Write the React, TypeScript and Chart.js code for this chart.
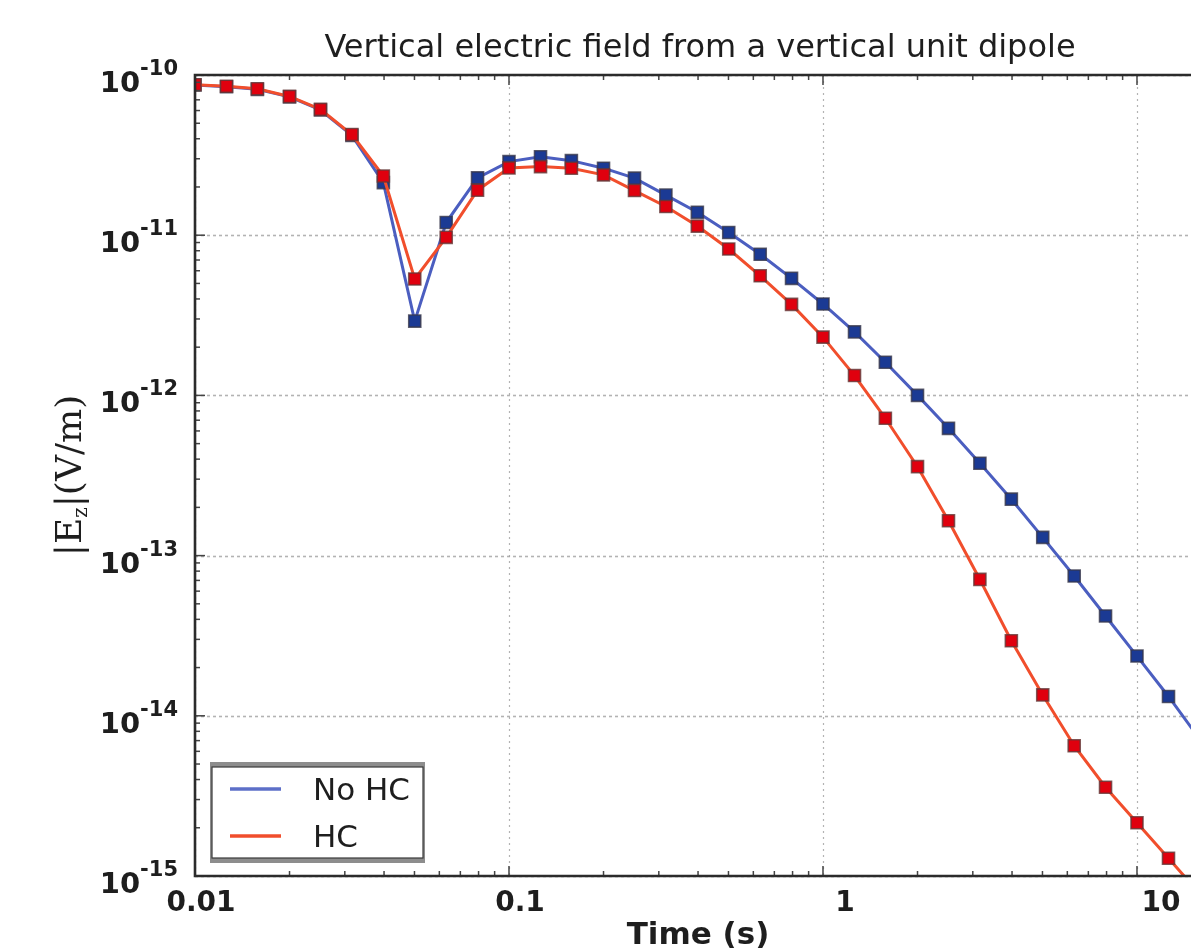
import React, { useEffect, useRef } from 'react';
import { Chart, registerables } from 'chart.js';
Chart.register(...registerables);

const TITLE = 'Vertical electric field from a vertical unit dipole';
const X_TITLE = 'Time (s)';
const SERIES_NAMES = ['No HC', 'HC'];

const times = [
  0.01, 0.0126, 0.0158, 0.02, 0.0251, 0.0316, 0.0398, 0.0501, 0.0631, 0.0794,
  0.1, 0.126, 0.158, 0.2, 0.251, 0.316, 0.398, 0.501, 0.631, 0.794,
  1, 1.26, 1.58, 2, 2.51, 3.16, 3.98, 5.01, 6.31, 7.94,
  10, 12.6, 15.8,
];

const noHC = [
  8.66e-11, 8.45e-11, 8.14e-11, 7.3e-11, 6.05e-11, 4.2e-11, 2.13e-11, 2.91e-12, 1.2e-11, 2.28e-11,
  2.88e-11, 3.09e-11, 2.92e-11, 2.62e-11, 2.27e-11, 1.78e-11, 1.39e-11, 1.04e-11, 7.6e-12, 5.38e-12,
  3.72e-12, 2.49e-12, 1.61e-12, 1.0e-12, 6.23e-13, 3.77e-13, 2.25e-13, 1.3e-13, 7.46e-14, 4.2e-14,
  2.36e-14, 1.32e-14, 7.2e-15,
];

const HC = [
  8.7e-11, 8.5e-11, 8.2e-11, 7.35e-11, 6.1e-11, 4.25e-11, 2.34e-11, 5.33e-12, 9.7e-12, 1.91e-11,
  2.63e-11, 2.68e-11, 2.62e-11, 2.38e-11, 1.9e-11, 1.51e-11, 1.14e-11, 8.2e-12, 5.58e-12, 3.7e-12,
  2.31e-12, 1.33e-12, 7.2e-13, 3.59e-13, 1.65e-13, 7.1e-14, 2.94e-14, 1.35e-14, 6.5e-15, 3.58e-15,
  2.15e-15, 1.29e-15, 7.8e-16,
];

const xTickValues = [0.01, 0.1, 1, 10];
const xTickLabels = ['0.01', '0.1', '1', '10'];
const yTickValues = [1e-10, 1e-11, 1e-12, 1e-13, 1e-14, 1e-15];
const yTickExps = ['-10', '-11', '-12', '-13', '-14', '-15'];

const X_MIN = 0.01;
const X_MAX = 14.86;
const Y_MIN = 1e-15;
const Y_MAX = 1e-10;

const BLUE_LINE = '#4b5ec0';
const BLUE_MARK = '#1b3a94';
const RED_LINE = '#f14e2c';
const RED_MARK = '#e0000e';
const TEXT = '#1e1e1e';
const SANS = '"DejaVu Sans", sans-serif';
const SERIF = '"DejaVu Serif", serif';

const overlay = {
  id: 'overlay',
  beforeDatasetsDraw(chart: any) {
    const { ctx, chartArea: a, scales } = chart;
    const x = scales.x, y = scales.y;
    ctx.save();
    ctx.strokeStyle = 'rgba(160,160,160,0.8)';
    ctx.lineWidth = 1.6;
    ctx.setLineDash([3, 3]);
    yTickValues.forEach((v) => {
      const py = Math.round(y.getPixelForValue(v)) + 0.5;
      ctx.beginPath();
      ctx.moveTo(a.left, py);
      ctx.lineTo(a.right, py);
      ctx.stroke();
    });
    ctx.lineWidth = 1.2;
    ctx.setLineDash([2, 4]);
    xTickValues.forEach((v) => {
      const px = Math.round(x.getPixelForValue(v)) + 0.5;
      ctx.beginPath();
      ctx.moveTo(px, a.top);
      ctx.lineTo(px, a.bottom);
      ctx.stroke();
    });
    ctx.restore();
  },
  afterDatasetsDraw(chart: any) {
    const { ctx, chartArea: a, scales } = chart;
    const x = scales.x, y = scales.y;
    ctx.save();
    ctx.setLineDash([]);
    ctx.strokeStyle = '#444';
    ctx.lineWidth = 1.5;
    const tick = (x1: number, y1: number, x2: number, y2: number) => {
      ctx.beginPath();
      ctx.moveTo(x1, y1);
      ctx.lineTo(x2, y2);
      ctx.stroke();
    };
    xTickValues.forEach((dec) => {
      for (let m = 1; m <= 9; m++) {
        const v = dec * m;
        if (v <= X_MIN || v >= X_MAX) continue;
        const px = x.getPixelForValue(v);
        const len = m === 1 ? 10 : 5;
        tick(px, a.bottom, px, a.bottom - len);
        tick(px, a.top, px, a.top + len);
      }
    });
    yTickValues.forEach((dec) => {
      for (let m = 1; m <= 9; m++) {
        const v = dec * m;
        if (v <= Y_MIN || v >= Y_MAX) continue;
        const py = y.getPixelForValue(v);
        const len = m === 1 ? 10 : 5;
        tick(a.left, py, a.left + len, py);
      }
    });
    ctx.strokeStyle = '#2b2b2b';
    ctx.lineWidth = 2.6;
    ctx.beginPath();
    ctx.moveTo(a.right + 2, a.top);
    ctx.lineTo(a.left, a.top);
    ctx.lineTo(a.left, a.bottom);
    ctx.lineTo(a.right + 2, a.bottom);
    ctx.stroke();

    // legend
    const lx = 210, ly = 762, lw = 215, lh = 101;
    ctx.fillStyle = '#8d8d8d';
    ctx.fillRect(lx, ly, lw, lh);
    ctx.fillStyle = '#ffffff';
    ctx.fillRect(lx + 2, ly + 5, lw - 4, lh - 10);
    ctx.strokeStyle = '#3a3a3a';
    ctx.lineWidth = 1.2;
    ctx.strokeRect(lx + 2, ly + 5, lw - 4, lh - 10);
    const entries = [
      { name: SERIES_NAMES[0], color: '#5d6fc8', yy: 789 },
      { name: SERIES_NAMES[1], color: RED_LINE, yy: 836 },
    ];
    entries.forEach((e) => {
      ctx.strokeStyle = e.color;
      ctx.lineWidth = 3.5;
      ctx.beginPath();
      ctx.moveTo(230, e.yy);
      ctx.lineTo(281, e.yy);
      ctx.stroke();
      ctx.fillStyle = TEXT;
      ctx.font = `31px ${SANS}`;
      ctx.textAlign = 'left';
      ctx.textBaseline = 'alphabetic';
      ctx.fillText(e.name, 313, e.yy + 11);
    });
    ctx.restore();
  },
  afterDraw(chart: any) {
    const { ctx, chartArea: a, scales } = chart;
    const x = scales.x, y = scales.y;
    ctx.save();
    ctx.fillStyle = TEXT;
    ctx.textBaseline = 'alphabetic';
    ctx.font = `32px ${SANS}`;
    ctx.textAlign = 'center';
    ctx.fillText(TITLE, 700, 57);
    ctx.font = `bold 28px ${SANS}`;
    const xOff = [6, 11, 22, 24];
    xTickValues.forEach((v, i) => {
      const px = x.getPixelForValue(v) + xOff[i];
      ctx.fillText(xTickLabels[i], px, a.bottom + 35);
    });
    ctx.font = `bold 31px ${SANS}`;
    ctx.fillText(X_TITLE, 698, 944);
    ctx.textAlign = 'left';
    yTickValues.forEach((v, i) => {
      const py = y.getPixelForValue(v);
      const supFont = `bold 21px ${SANS}`;
      const baseFont = `bold 29px ${SANS}`;
      ctx.font = supFont;
      const sw = ctx.measureText(yTickExps[i]).width;
      ctx.font = baseFont;
      const bw = ctx.measureText('10').width;
      const right = a.left - 17;
      ctx.fillText('10', right - sw - bw, py + 17);
      ctx.font = supFont;
      ctx.fillText(yTickExps[i], right - sw, py);
    });
    ctx.translate(81, (a.top + a.bottom) / 2);
    ctx.rotate(-Math.PI / 2);
    const main = `36px ${SERIF}`;
    const sub = `20px ${SERIF}`;
    const parts = [
      { t: '|E', f: main, dy: 0 },
      { t: 'z', f: sub, dy: 6 },
      { t: '|(V/m)', f: main, dy: 0 },
    ];
    let total = 0;
    parts.forEach((p) => { ctx.font = p.f; total += ctx.measureText(p.t).width; });
    let cx = -total / 2;
    parts.forEach((p) => {
      ctx.font = p.f;
      ctx.fillText(p.t, cx, p.dy);
      cx += ctx.measureText(p.t).width;
    });
    ctx.restore();
  },
};

export default function App() {
  const ref = useRef<HTMLCanvasElement | null>(null);
  useEffect(() => {
    document.body.style.margin = '0';
    const canvas = ref.current;
    if (!canvas) return;
    const chart = new Chart(canvas, {
      type: 'line',
      data: {
        datasets: [
          {
            label: SERIES_NAMES[1],
            data: times.map((t, i) => ({ x: t, y: HC[i] })),
            borderColor: RED_LINE,
            borderWidth: 3,
            pointStyle: 'rect',
            pointRadius: 8.5,
            pointBackgroundColor: RED_MARK,
            pointBorderColor: 'rgba(100,55,55,0.8)',
            pointBorderWidth: 1.6,
            tension: 0,
            order: 0,
          },
          {
            label: SERIES_NAMES[0],
            data: times.map((t, i) => ({ x: t, y: noHC[i] })),
            borderColor: BLUE_LINE,
            borderWidth: 3,
            pointStyle: 'rect',
            pointRadius: 8.5,
            pointBackgroundColor: BLUE_MARK,
            pointBorderColor: 'rgba(55,55,75,0.8)',
            pointBorderWidth: 1.6,
            tension: 0,
            order: 1,
          },
        ],
      },
      options: {
        responsive: false,
        animation: false,
        devicePixelRatio: 1,
        layout: { autoPadding: false, padding: { left: 195, top: 75, right: 0, bottom: 76 } },
        plugins: {
          legend: { display: false },
          tooltip: { enabled: false },
          title: { display: false },
        },
        scales: {
          x: { type: 'logarithmic', min: X_MIN, max: X_MAX, display: false },
          y: { type: 'logarithmic', min: Y_MIN, max: Y_MAX, display: false },
        },
      },
      plugins: [overlay],
    } as any);
    return () => chart.destroy();
  }, []);
  return (
    <div style={{ position: 'absolute', left: 0, top: 0, width: 1191, height: 952, background: '#fff' }}>
      <canvas ref={ref} width={1191} height={952} style={{ width: 1191, height: 952, display: 'block' }} />
    </div>
  );
}
